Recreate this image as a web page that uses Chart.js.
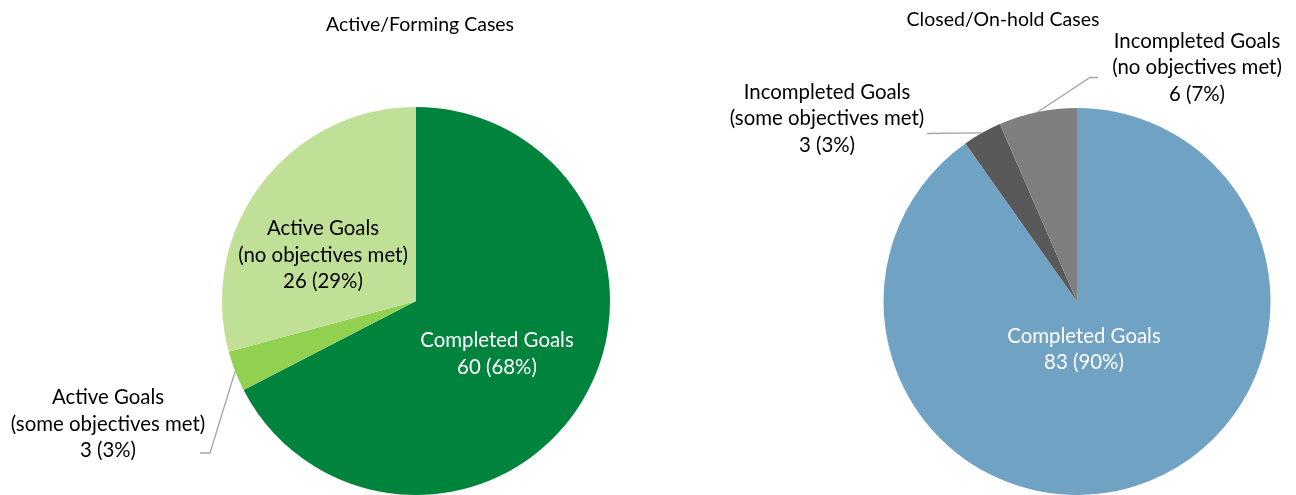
<!DOCTYPE html>
<html>
<head>
<title>Goal Status by Case Type</title>
<script src="https://cdn.jsdelivr.net/npm/chart.js"></script>
<style>
  html, body { margin: 0; padding: 0; background: #fff; }
  .wrap { position: absolute; top: 0; width: 648px; height: 495px; }
</style>
</head>
<body>
<div class="wrap" style="left:0"><canvas id="activeChart"></canvas></div>
<div class="wrap" style="left:648px"><canvas id="closedChart"></canvas></div>
<script>
// Active/Forming cases
const activeLabels = [['Completed Goals'], ['Active Goals', '(some objectives met)'], ['Active Goals', '(no objectives met)']];
const activeValues = [60, 3, 26];
const activePct = ['68%', '3%', '29%'];

// Closed/On-hold cases
const closedLabels = [['Completed Goals'], ['Incompleted Goals', '(some objectives met)'], ['Incompleted Goals', '(no objectives met)']];
const closedValues = [83, 3, 6];
const closedPct = ['90%', '3%', '7%'];

const FONT = 'Lato, "Open Sans", sans-serif';

// draws title, data labels and leader lines
const sliceLabels = {
  id: 'sliceLabels',
  afterDatasetsDraw(chart, args, opts) {
    const ctx = chart.ctx;
    const arcs = chart.getDatasetMeta(0).data;
    const values = chart.data.datasets[0].data;
    ctx.save();
    ctx.textAlign = 'center';
    ctx.textBaseline = 'middle';
    ctx.fillStyle = '#000';
    ctx.font = `${opts.titleSize}px ${FONT}`;
    ctx.fillText(opts.title, opts.titlePos[0], opts.titlePos[1]);

    ctx.font = `${opts.fontSize}px ${FONT}`;
    arcs.forEach((arc, i) => {
      const p = arc.getProps(['x', 'y', 'startAngle', 'endAngle', 'outerRadius'], true);
      const spec = opts.slices[i];
      if (spec.leader) {
        const mid = (p.startAngle + p.endAngle) / 2;
        ctx.beginPath();
        ctx.strokeStyle = '#a6a6a6';
        ctx.lineWidth = 1.3;
        ctx.moveTo(p.x + p.outerRadius * Math.cos(mid), p.y + p.outerRadius * Math.sin(mid));
        spec.leader.forEach(pt => ctx.lineTo(p.x + pt[0], p.y + pt[1]));
        ctx.stroke();
      }
      const lines = chart.data.labels[i].concat(`${values[i]} (${opts.pct[i]})`);
      const lh = opts.lineHeight;
      const top = p.y + spec.dy - (lines.length - 1) * lh / 2;
      ctx.fillStyle = spec.color;
      lines.forEach((t, k) => ctx.fillText(t, p.x + spec.dx, top + k * lh));
    });
    ctx.restore();
  }
};

function makePie(id, labels, values, colors, padding, plugOpts) {
  return new Chart(document.getElementById(id), {
    type: 'pie',
    data: {
      labels: labels,
      datasets: [{ data: values, backgroundColor: colors, borderWidth: 0 }]
    },
    options: {
      responsive: true,
      maintainAspectRatio: false,
      animation: false,
      events: [],
      layout: { padding: padding },
      plugins: {
        legend: { display: false },
        tooltip: { enabled: false },
        sliceLabels: plugOpts
      }
    },
    plugins: [sliceLabels]
  });
}

makePie('activeChart', activeLabels, activeValues, ['#00843d', '#92d050', '#c0e097'],
  { left: 222, right: 38, top: 107, bottom: 0 },
  {
    title: 'Active/Forming Cases', titlePos: [420, 25], titleSize: 19.5,
    fontSize: 20.4, lineHeight: 26.5, pct: activePct,
    slices: [
      { dx: 81, dy: 53, color: '#fff' },
      { dx: -308, dy: 123, color: '#000', leader: [[-206, 152], [-216, 152]] },
      { dx: -93, dy: -46, color: '#000' }
    ]
  });

makePie('closedChart', closedLabels, closedValues, ['#6fa2c3', '#595959', '#7f7f7f'],
  { left: 235, right: 25, top: 108, bottom: 0 },
  {
    title: 'Closed/On-hold Cases', titlePos: [355, 20], titleSize: 19.5,
    fontSize: 20.4, lineHeight: 26.5, pct: closedPct,
    slices: [
      { dx: 7, dy: 48, color: '#fff' },
      { dx: -250, dy: -183, color: '#000', leader: [[-150, -168]] },
      { dx: 120, dy: -234, color: '#000', leader: [[13, -224], [21, -224]] }
    ]
  });
</script>
</body>
</html>
